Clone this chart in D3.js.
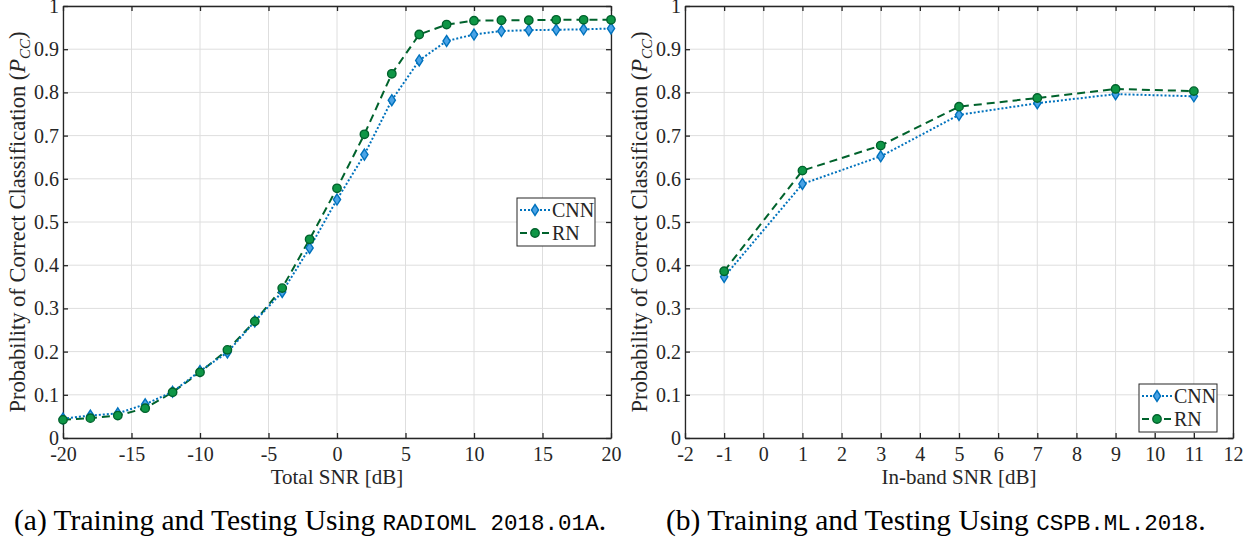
<!DOCTYPE html>
<html><head><meta charset="utf-8">
<script src="https://cdn.jsdelivr.net/npm/d3@7"></script>
<style>body{margin:0;background:#fff}svg{display:block}</style>
</head><body><svg id="c" width="1256" height="540"></svg>
<script>
// ---- data ----
const snrA = [-20,-18,-16,-14,-12,-10,-8,-6,-4,-2,0,2,4,6,8,10,12,14,16,18,20];
const cnnA = [0.045,0.052,0.057,0.078,0.107,0.155,0.198,0.270,0.338,0.440,0.552,0.656,0.782,0.874,0.919,0.934,0.942,0.944,0.945,0.946,0.948];
const rnA  = [0.042,0.046,0.052,0.069,0.106,0.152,0.204,0.270,0.347,0.460,0.578,0.703,0.843,0.934,0.957,0.966,0.967,0.967,0.968,0.968,0.968];
const snrB = [-1,1,3,5,7,9,11];
const cnnB = [0.373,0.588,0.652,0.748,0.775,0.796,0.791];
const rnB  = [0.386,0.619,0.677,0.767,0.787,0.808,0.803];
const xTicksA = [-20,-15,-10,-5,0,5,10,15,20];
const xTicksB = [-2,-1,0,1,2,3,4,5,6,7,8,9,10,11,12];
const yTicks = [0,0.1,0.2,0.3,0.4,0.5,0.6,0.7,0.8,0.9,1];
const seriesNames = ["CNN","RN"];

const svg = d3.select("#c");
const serif = "'Liberation Serif','Times New Roman',serif";
const mono = "'Liberation Mono','DejaVu Sans Mono',monospace";
const axisCol = "#262626";
const blue = "#0072BD", blueFill = "#4AA3E6";
const green = "#00622C", greenFill = "#0E9646";

function panel(o){
  const g = svg.append("g");
  const x = d3.scaleLinear().domain(o.xdom).range([o.x0,o.x1]);
  const y = d3.scaleLinear().domain([0,1]).range([o.y1,o.y0]);
  // grid
  g.append("g").selectAll("line").data(o.xt).join("line")
    .attr("x1",d=>x(d)).attr("x2",d=>x(d)).attr("y1",o.y0).attr("y2",o.y1)
    .attr("stroke","#dedede").attr("stroke-width",1);
  g.append("g").selectAll("line").data(yTicks).join("line")
    .attr("x1",o.x0).attr("x2",o.x1).attr("y1",d=>y(d)).attr("y2",d=>y(d))
    .attr("stroke","#dedede").attr("stroke-width",1);
  // axes
  const fmtY = d=> d===0?"0":(d===1?"1":d3.format(".1f")(d));
  const ab = g.append("g").attr("transform",`translate(0,${o.y1})`)
    .call(d3.axisBottom(x).tickValues(o.xt).tickSizeInner(-5).tickSizeOuter(0).tickPadding(9).tickFormat(d=>d));
  const at = g.append("g").attr("transform",`translate(0,${o.y0})`)
    .call(d3.axisTop(x).tickValues(o.xt).tickSizeInner(-5).tickSizeOuter(0).tickFormat(""));
  const al = g.append("g").attr("transform",`translate(${o.x0},0)`)
    .call(d3.axisLeft(y).tickValues(yTicks).tickSizeInner(-5).tickSizeOuter(0).tickPadding(4).tickFormat(fmtY));
  const ar = g.append("g").attr("transform",`translate(${o.x1},0)`)
    .call(d3.axisRight(y).tickValues(yTicks).tickSizeInner(-5).tickSizeOuter(0).tickFormat(""));
  [ab,at,al,ar].forEach(a=>{
    a.selectAll("path,line").attr("stroke",axisCol).attr("stroke-width",1.3);
    a.selectAll("text").attr("fill",axisCol).style("font-family",serif).style("font-size","20px");
  });
  // series
  const line = d3.line().x(d=>x(d[0])).y(d=>y(d[1]));
  const cnnPts = o.xs.map((v,i)=>[v,o.cnn[i]]);
  const rnPts = o.xs.map((v,i)=>[v,o.rn[i]]);
  g.append("path").datum(rnPts).attr("d",line).attr("fill","none")
    .attr("stroke",green).attr("stroke-width",2).attr("stroke-dasharray","8,5");
  g.append("path").datum(cnnPts).attr("d",line).attr("fill","none")
    .attr("stroke",blue).attr("stroke-width",2).attr("stroke-dasharray","2,2");
  const diamond = "M0,-5.5L3.6,0L0,5.5L-3.6,0Z";
  g.append("g").selectAll("path").data(cnnPts).join("path")
    .attr("d",diamond).attr("transform",d=>`translate(${x(d[0])},${y(d[1])})`)
    .attr("fill",blueFill).attr("stroke",blue).attr("stroke-width",1.4);
  g.append("g").selectAll("circle").data(rnPts).join("circle")
    .attr("cx",d=>x(d[0])).attr("cy",d=>y(d[1])).attr("r",4.2)
    .attr("fill",greenFill).attr("stroke",green).attr("stroke-width",1.4);
  // x label
  g.append("text").attr("x",(o.x0+o.x1)/2).attr("y",484).attr("text-anchor","middle")
    .style("font-family",serif).style("font-size","21px").attr("fill",axisCol).text(o.xlabel);
  // y label
  const yl = g.append("text").attr("transform",`translate(${o.x0-38},${(o.y0+o.y1)/2}) rotate(-90)`)
    .attr("text-anchor","middle").style("font-family",serif).style("font-size","22.5px").attr("fill",axisCol);
  yl.append("tspan").text("Probability of Correct Classification (");
  yl.append("tspan").style("font-style","italic").text("P");
  yl.append("tspan").style("font-style","italic").style("font-size","15px").attr("dy",5).text("CC");
  yl.append("tspan").attr("dy",-5).text(")");
  // legend
  const L = o.leg;
  const lg = g.append("g").attr("transform",`translate(${L[0]},${L[1]})`);
  lg.append("rect").attr("width",78).attr("height",48).attr("fill","#fff").attr("stroke",axisCol).attr("stroke-width",1);
  const rows = [
    {n:seriesNames[0], c:blue, dash:"2,2", m:"d"},
    {n:seriesNames[1], c:green, dash:"7,4", m:"c"}
  ];
  rows.forEach((r,i)=>{
    const yy = 12 + i*23;
    lg.append("line").attr("x1",3).attr("x2",33).attr("y1",yy).attr("y2",yy)
      .attr("stroke",r.c).attr("stroke-width",2).attr("stroke-dasharray",r.dash);
    if(r.m==="d") lg.append("path").attr("d",diamond).attr("transform",`translate(18,${yy})`)
      .attr("fill",blueFill).attr("stroke",blue).attr("stroke-width",1.4);
    else lg.append("circle").attr("cx",18).attr("cy",yy).attr("r",4.2)
      .attr("fill",greenFill).attr("stroke",green).attr("stroke-width",1.4);
    lg.append("text").attr("x",35).attr("y",yy+7).style("font-family",serif).style("font-size","20px")
      .attr("fill",axisCol).text(r.n);
  });
  // caption
  const cap = svg.append("text").attr("x",o.capX).attr("y",530).attr("fill","#000");
  cap.append("tspan").style("font-family",serif).style("font-size","29.5px").text(o.cap[0]);
  cap.append("tspan").style("font-family",mono).style("font-size","22.5px").text(o.cap[1]);
  cap.append("tspan").style("font-family",serif).style("font-size","29.5px").text(".");
}

panel({x0:63,x1:611,y0:6,y1:438,xdom:[-20,20],xt:xTicksA,xs:snrA,cnn:cnnA,rn:rnA,
  xlabel:"Total SNR [dB]",leg:[517,198],capX:14,cap:["(a) Training and Testing Using ","RADIOML 2018.01A"]});
panel({x0:685,x1:1233,y0:6,y1:438,xdom:[-2,12],xt:xTicksB,xs:snrB,cnn:cnnB,rn:rnB,
  xlabel:"In-band SNR [dB]",leg:[1139,384],capX:666,cap:["(b) Training and Testing Using ","CSPB.ML.2018"]});
</script></body></html>
